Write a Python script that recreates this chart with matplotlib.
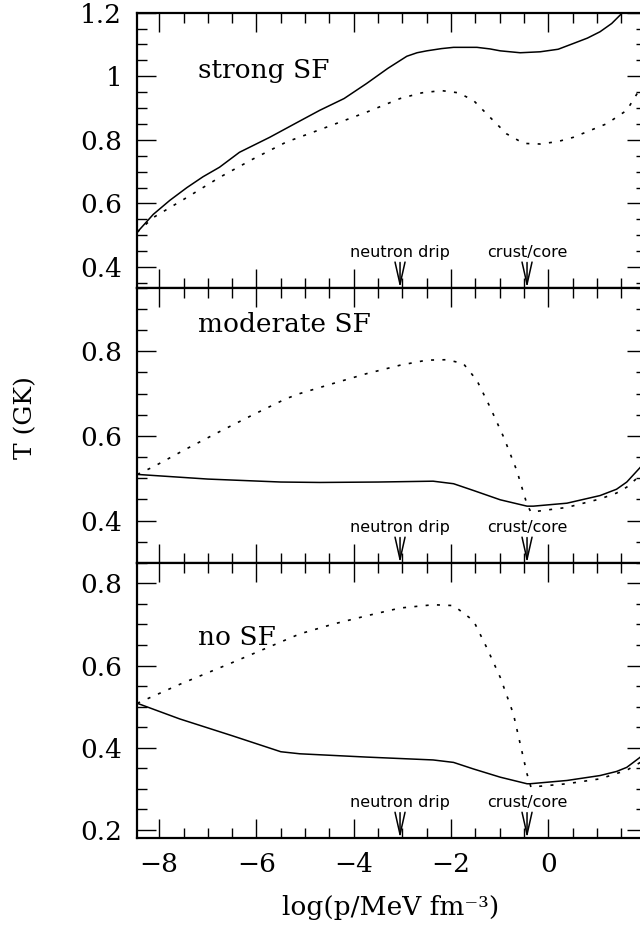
import matplotlib
matplotlib.use("Agg")
import matplotlib.pyplot as plt
from matplotlib.ticker import MultipleLocator, FuncFormatter

# ---------------- data ----------------
panel_names = ["strong SF", "moderate SF", "no SF"]

x_strong_solid = [-8.45, -8.12, -7.78, -7.43, -7.10, -6.76, -6.35, -5.73, -5.15, -4.70, -4.20, -3.74, -3.30, -2.91,
                  -2.70, -2.50, -2.20, -1.95, -1.47, -1.20, -0.99, -0.58, -0.17, 0.20, 0.51, 0.80, 1.06, 1.30, 1.51, 2.0]
T_strong_solid = [0.510, 0.566, 0.610, 0.650, 0.684, 0.714, 0.761, 0.808, 0.856, 0.893, 0.930, 0.977, 1.025, 1.063,
                  1.074, 1.080, 1.087, 1.091, 1.091, 1.086, 1.080, 1.074, 1.077, 1.085, 1.103, 1.120, 1.140, 1.166, 1.198, 1.30]

x_strong_dot = [-8.45, -8.12, -7.43, -6.76, -6.07, -5.39, -4.70, -3.74, -3.05, -2.60, -2.20, -1.85,
                -1.54, -1.20, -0.86, -0.51, -0.17, 0.20, 0.51, 1.20, 1.61, 1.82, 2.0]
T_strong_dot = [0.510, 0.556, 0.619, 0.682, 0.740, 0.793, 0.832, 0.887, 0.930, 0.948, 0.955, 0.948,
                0.924, 0.871, 0.819, 0.789, 0.787, 0.795, 0.808, 0.851, 0.893, 0.945, 0.985]

x_mod_solid = [-8.45, -7.0, -5.5, -4.70, -3.5, -2.37, -1.95, -1.54, -0.99, -0.44, -0.31, 0.38,
               1.06, 1.40, 1.61, 1.89, 2.0]
T_mod_solid = [0.509, 0.498, 0.491, 0.490, 0.491, 0.493, 0.487, 0.471, 0.449, 0.434, 0.434, 0.441,
               0.459, 0.474, 0.491, 0.526, 0.545]

x_mod_dot = [-8.45, -8.12, -7.43, -6.76, -6.07, -5.39, -5.11, -4.42, -3.74, -3.05, -2.50, -2.09,
             -1.75, -1.47, -1.20, -0.92, -0.65, -0.44, -0.36, 0.38, 1.06, 1.40, 1.61, 1.89, 2.0]
T_mod_dot = [0.509, 0.527, 0.570, 0.610, 0.650, 0.688, 0.700, 0.724, 0.747, 0.767, 0.779, 0.780,
             0.771, 0.731, 0.668, 0.597, 0.518, 0.438, 0.420, 0.431, 0.451, 0.465, 0.479, 0.507, 0.520]

x_no_solid = [-8.45, -7.58, -6.5, -5.5, -5.11, -3.74, -2.37, -1.95, -1.54, -0.99, -0.44, -0.38,
              0.38, 1.06, 1.40, 1.61, 1.89, 2.0]
T_no_solid = [0.508, 0.470, 0.429, 0.390, 0.385, 0.377, 0.370, 0.364, 0.348, 0.328, 0.312, 0.312,
              0.320, 0.332, 0.342, 0.352, 0.377, 0.392]

x_no_dot = [-8.45, -7.58, -6.5, -5.11, -4.42, -3.74, -3.05, -2.37, -1.95, -1.54, -1.27, -0.99,
            -0.72, -0.58, -0.44, -0.36, 0.38, 1.06, 1.61, 1.89, 2.0]
T_no_dot = [0.508, 0.554, 0.607, 0.677, 0.701, 0.721, 0.740, 0.748, 0.746, 0.709, 0.644, 0.571,
            0.482, 0.409, 0.336, 0.304, 0.312, 0.324, 0.345, 0.364, 0.375]

marker_x = [-3.05, -0.44]
marker_labels = ["neutron drip", "crust/core"]

ylims = [(0.335, 1.2), (0.30, 0.95), (0.18, 0.85)]
xlim = (-8.45, 2.0)

# ---------------- figure ----------------
plt.rcParams['font.family'] = ['DejaVu Serif']
fig = plt.figure(figsize=(6.4, 9.32), dpi=100)
left, right, bottom, top = 0.2145, 1.009, 0.1009, 0.9864
h = (top - bottom) / 3.0

series = [
    (x_strong_solid, T_strong_solid, x_strong_dot, T_strong_dot),
    (x_mod_solid, T_mod_solid, x_mod_dot, T_mod_dot),
    (x_no_solid, T_no_solid, x_no_dot, T_no_dot),
]
label_y = [0.79, 0.865, 0.73]


def xfmt(v, p):
    if v > 1.0:
        return ''
    return ('%g' % v).replace('-', '\u2212')


axes = []
for i in range(3):
    ax = fig.add_axes([left, top - (i + 1) * h, right - left, h])
    axes.append(ax)
    xs, ys, xd, yd = series[i]
    ax.plot(xs, ys, color='k', lw=1.1, solid_joinstyle='round')
    ax.plot(xd, yd, color='k', lw=1.2, linestyle=(0, (1.8, 5.0)))
    ax.set_xlim(*xlim)
    ax.set_ylim(*ylims[i])
    ax.xaxis.set_major_locator(MultipleLocator(2))
    ax.xaxis.set_minor_locator(MultipleLocator(0.5))
    ax.xaxis.set_major_formatter(FuncFormatter(xfmt))
    ax.yaxis.set_major_locator(MultipleLocator(0.2))
    ax.yaxis.set_minor_locator(MultipleLocator(0.05))
    ax.yaxis.set_major_formatter(FuncFormatter(lambda v, p: '%g' % round(v, 3)))
    ax.tick_params(which='both', direction='in', top=True, right=True, width=1.0, colors='k')
    ax.tick_params(which='major', length=13.5)
    ax.tick_params(which='minor', length=7)
    ax.tick_params(axis='y', labelsize=19, pad=11)
    ax.tick_params(axis='x', labelsize=19, pad=10)
    for s in ax.spines.values():
        s.set_linewidth(1.6)
    if i < 2:
        ax.tick_params(axis='x', labelbottom=False)
    ax.text(0.119, label_y[i], panel_names[i], transform=ax.transAxes,
            fontsize=19, ha='left', va='center')
    tr = ax.get_xaxis_transform()
    for mx, ml in zip(marker_x, marker_labels):
        ax.annotate('', xy=(mx, 0.0), xycoords=tr, xytext=(mx, 0.092), textcoords=tr,
                    arrowprops=dict(arrowstyle='->,head_length=1.6,head_width=0.36',
                                    lw=1.1, color='k', shrinkA=0, shrinkB=0,
                                    mutation_scale=10))
        ax.text(mx, 0.112, ml, transform=tr, ha='center', va='baseline',
                fontsize=11.5, family=['DejaVu Sans'])

fig.text(26 / 640, 1 - 418 / 932, 'T (GK)', rotation=90, ha='center', va='center', fontsize=18)
fig.text(391 / 640, 24 / 932, 'log(p/MeV fm⁻³)', ha='center', va='center', fontsize=19)

fig.savefig('out.png', dpi=100)
